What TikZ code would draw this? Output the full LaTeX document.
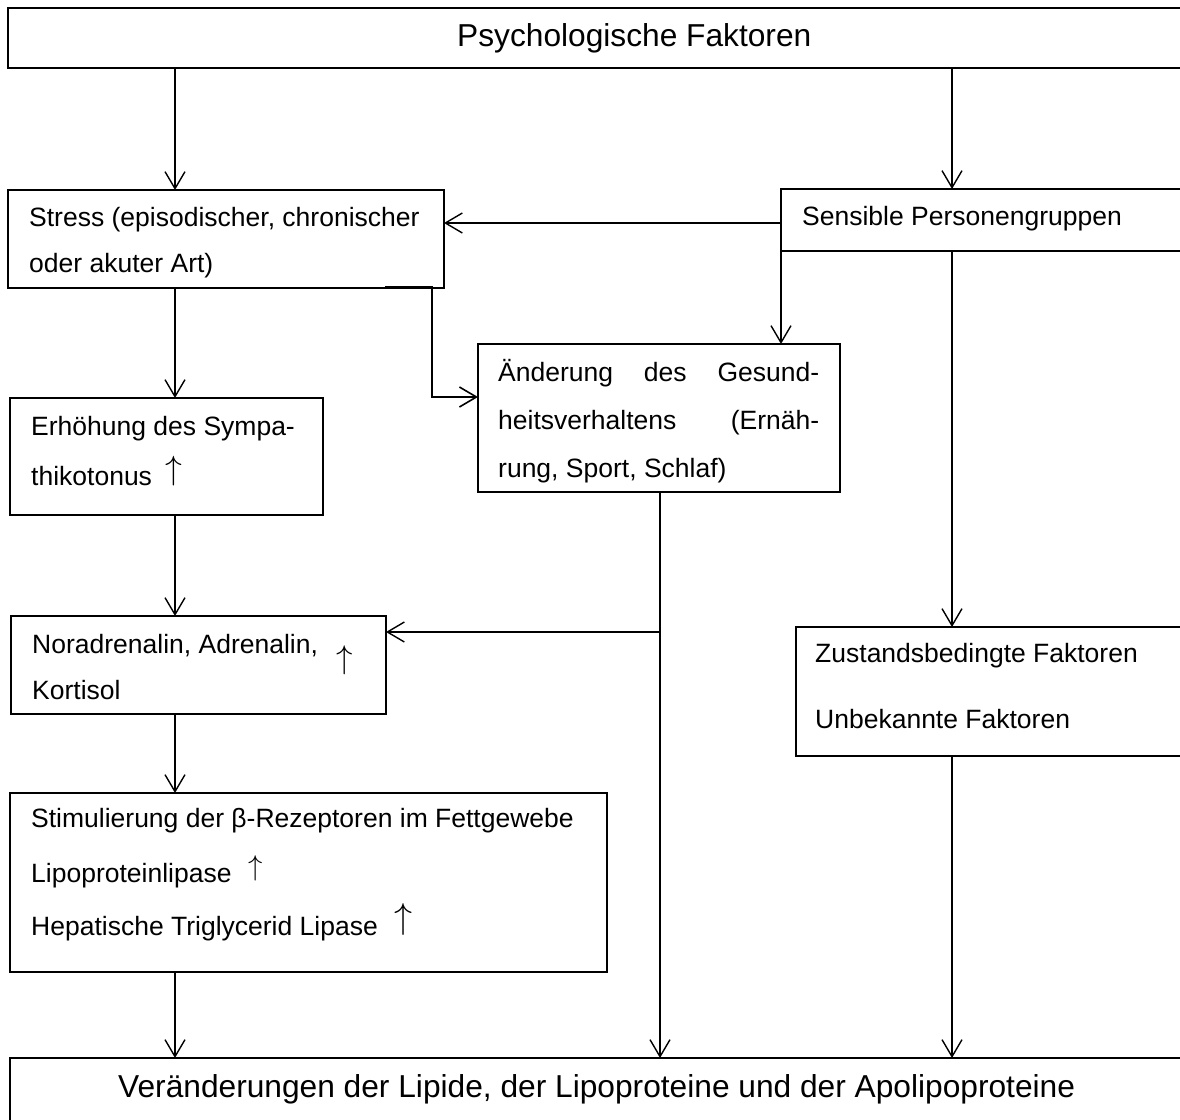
\documentclass[tikz,border=0pt]{standalone}
\usepackage{fontspec}
\setmainfont{Liberation Sans}
\usetikzlibrary{arrows.meta}
\newcommand{\uparrowsym}[1]{\scalebox{#1}{\fontsize{24.88}{25}\selectfont$\uparrow$}}
\begin{document}
\begin{tikzpicture}[x=1pt,y=-1pt,
  box/.style={draw,line width=1.4pt,inner sep=0pt,outer sep=0pt},
  heavybox/.style={box,line width=2pt},
  txt/.style={anchor=base west,inner sep=0pt,font=\fontsize{26.5}{30}\selectfont},
  big/.style={anchor=base west,inner sep=0pt,font=\fontsize{31.7}{36}\selectfont},
  uparr/.style={anchor=south,inner sep=0pt},
  arr/.style={line width=1.4pt,-{Straight Barb[length=17pt,width=20pt]}}]
\useasboundingbox (0,0) rectangle (1180,1119);
\clip (0,0) rectangle (1180,1119);
\fill[white] (0,0) rectangle (1180,1119);
% boxes
\node[heavybox,minimum width=1174pt,minimum height=60pt] (top) at (595,38) {};
\node[box,minimum width=436pt,minimum height=98pt] (stress) at (226,239) {};
\node[box,minimum width=401pt,minimum height=62pt] (sens) at (981.5,220) {};
\node[box,minimum width=313pt,minimum height=117pt] (erh) at (166.5,456.5) {};
\node[box,minimum width=362pt,minimum height=148pt] (aend) at (659,418) {};
\node[box,minimum width=375pt,minimum height=98pt] (nor) at (198.5,665) {};
\node[box,minimum width=386pt,minimum height=129pt] (zust) at (989,691.5) {};
\node[heavybox,minimum width=597pt,minimum height=179pt] (stim) at (308.5,882.5) {};
\node[box,minimum width=1172pt,minimum height=72pt] (bot) at (596,1094) {};
% texts
\node[big] (ttop) at (457,46.7) {Psychologische Faktoren};
\node[txt] (ts1) at (29,226) {Stress (episodischer, chronischer};
\node[txt] (ts2) at (29,272) {oder akuter Art)};
\node[txt] (tsens) at (802,225) {Sensible Personengruppen};
\node[txt] (te1) at (31,435) {Erhöhung des Sympa-};
\node[txt] (te2) at (31,485) {thikotonus};
\node[uparr] (ue) at (174,486) {\uparrowsym{1.35}};
\node[txt] (ta1) at (498,381) {\makebox[321pt][s]{Änderung des Gesund-}};
\node[txt] (ta2) at (498,429) {\makebox[321pt][s]{heitsverhaltens (Ernäh-}};
\node[txt] (ta3) at (498,477) {rung, Sport, Schlaf)};
\node[txt] (tn1) at (32,653) {Noradrenalin, Adrenalin,};
\node[txt] (tn2) at (32,699) {Kortisol};
\node[uparr] (un) at (345,675) {\uparrowsym{1.32}};
\node[txt] (tz1) at (815,662) {Zustandsbedingte Faktoren};
\node[txt] (tz2) at (815,728) {Unbekannte Faktoren};
\node[txt] (tm1) at (31,827) {Stimulierung der β-Rezeptoren im Fettgewebe};
\node[txt] (tm2) at (31,882) {Lipoproteinlipase};
\node[uparr] (um2) at (256,881) {\uparrowsym{1.15}};
\node[txt] (tm3) at (31,935) {Hepatische Triglycerid Lipase};
\node[uparr] (um3) at (404,936) {\uparrowsym{1.45}};
\node[big] (tbot) at (118,1097) {Veränderungen der Lipide, der Lipoproteine und der Apolipoproteine};
% helper coordinates
\coordinate (xL) at (175,0);
\coordinate (xM0) at (385,0);
\coordinate (xM) at (432,0);
\coordinate (xA) at (660,0);
\coordinate (xR) at (952,0);
\coordinate (yS) at (0,223);
\coordinate (yA) at (0,397);
\coordinate (yN) at (0,632);
% connectors
\draw[arr] (top.south -| xL) -- (stress.north -| xL);
\draw[arr] (top.south -| xR) -- (sens.north -| xR);
\draw[arr] (sens.west |- yS) -- (stress.east |- yS);
\draw[arr] (sens.south west) -- (aend.north -| sens.south west);
\draw[arr] (sens.south -| xR) -- (zust.north -| xR);
\draw[arr] (stress.south -| xL) -- (erh.north -| xL);
\draw[arr,line width=1.6pt] ([yshift=1pt]stress.south -| xM0) -- ([yshift=1pt]stress.south -| xM) -- (xM |- yA) -- (aend.west |- yA);
\draw[arr] (erh.south -| xL) -- (nor.north -| xL);
\draw[arr] (aend.south -| xA) -- (bot.north -| xA);
\draw[arr] (xA |- yN) -- (nor.east |- yN);
\draw[arr] (nor.south -| xL) -- (stim.north -| xL);
\draw[arr] (stim.south -| xL) -- (bot.north -| xL);
\draw[arr] (zust.south -| xR) -- (bot.north -| xR);
\end{tikzpicture}
\end{document}
